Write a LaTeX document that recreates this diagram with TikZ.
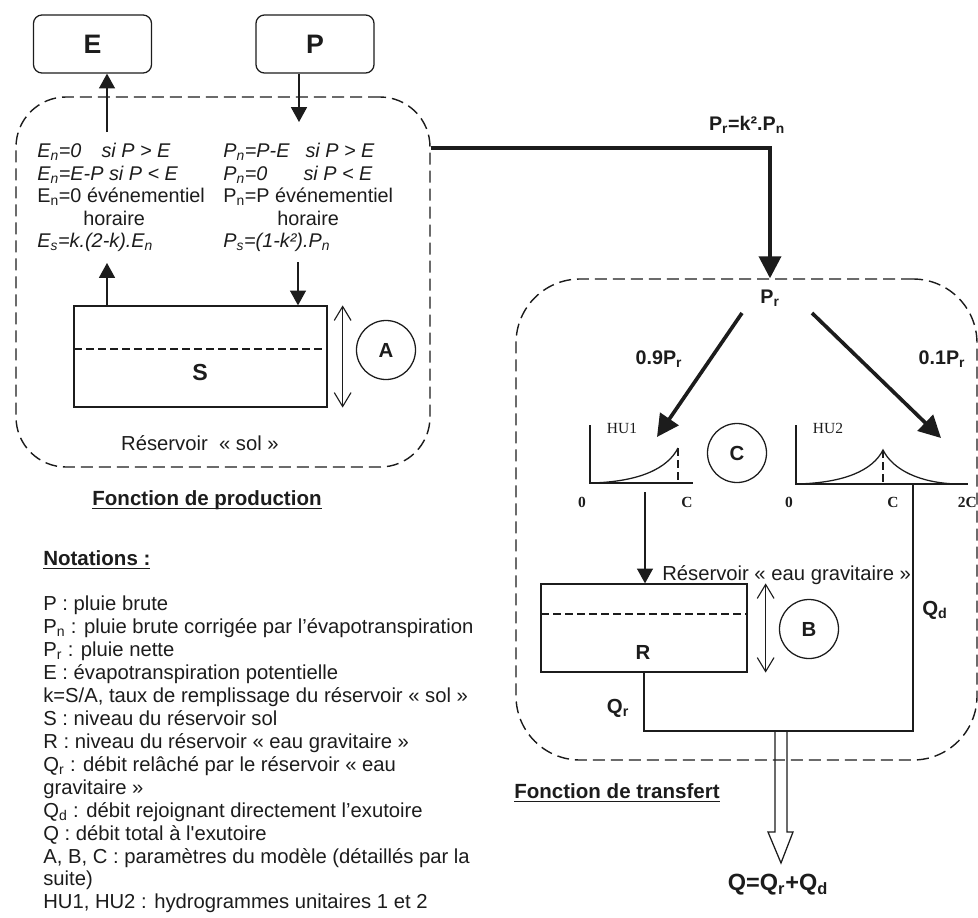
\documentclass[tikz,border=0pt]{standalone}
\usepackage{fontspec}
\setmainfont{Liberation Sans}
\newfontfamily\hufont{Liberation Serif}
\usetikzlibrary{arrows.meta,positioning,fit,calc}
\definecolor{ink}{HTML}{1C1C1C}
\tikzset{
  inbox/.style={draw=ink, line width=0.9pt, rounded corners=6pt, minimum width=29.5mm,
                minimum height=14.5mm, font=\fontsize{19}{22}\selectfont\bfseries, text=ink},
  tank/.style={draw=ink, line width=0.9pt, inner sep=0pt},
  param/.style={circle, draw=ink, line width=0.9pt, minimum size=14.75mm, inner sep=0pt,
                font=\fontsize{14.5}{16}\selectfont\bfseries, text=ink},
  zone/.style={draw=ink, line width=1pt, dash pattern=on 3mm off 1.5mm, inner sep=0pt},
  level/.style={draw=ink, line width=0.8pt, dash pattern=on 2mm off 1mm},
  wire/.style={draw=ink, line width=0.9pt},
  flow/.style={-{Triangle[length=3.7mm,width=4mm]}, line width=0.9pt, draw=ink},
  bigflow/.style={-{Triangle[length=5.5mm,width=5.5mm]}, line width=2.6pt, draw=ink},
  span/.style={{Straight Barb[length=3.5mm,width=4.2mm]}-{Straight Barb[length=3.5mm,width=4.2mm]},
               line width=0.8pt, draw=ink},
  hollow/.style={draw=ink, line width=0.9pt},
  txt/.style={font=\fontsize{14.4}{16.3}\selectfont, text=ink, inner sep=0pt},
  formula/.style={font=\fontsize{14.1}{16}\selectfont, text=ink, inner sep=0pt, align=left},
  lbl/.style={font=\fontsize{14.5}{17}\selectfont\bfseries, text=ink, inner sep=0pt},
  bold/.style={font=\fontsize{14}{16}\selectfont\bfseries, text=ink, inner sep=0pt},
  title/.style={font=\fontsize{14.6}{17}\selectfont\bfseries, text=ink, inner sep=0pt},
  hulbl/.style={font=\hufont\fontsize{11}{13}\selectfont, text=ink, inner sep=0pt},
  hutick/.style={font=\hufont\fontsize{11}{13}\selectfont\bfseries, text=ink, inner sep=0pt}
}
\newcommand{\sbs}[1]{\textsubscript{#1}}
\newcommand{\titleul}[1]{\setbox0\hbox{#1}\rlap{\rule[-2.6pt]{\wd0}{1pt}}\box0}

\begin{document}
\begin{tikzpicture}[x=0.25mm,y=-0.25mm]
  \useasboundingbox (0,0) rectangle (978,918);

  % fonction de production
  \node[inbox] (E) at (92.5,44) {E};
  \node[inbox] (P) at (315,44) {P};
  \node[zone, rounded corners=12.5mm, fit={(16,97) (430,467)}] (prod) {};
  \node[formula, anchor=north west] (enlaw) at (37,143) {%
    \textit{E\sbs{n}=0\hspace{5mm}si P > E}\\
    \textit{E\sbs{n}=E-P si P < E}\\
    E\sbs{n}=0 événementiel\\
    \hspace*{11.5mm}horaire\\
    \textit{E\sbs{s}=k.(2-k).E\sbs{n}}};
  \node[formula, anchor=north west] (pnlaw) at (223,143) {%
    \textit{P\sbs{n}=P-E\hspace{4mm}si P > E}\\
    \textit{P\sbs{n}=0\hspace{9mm}si P < E}\\
    P\sbs{n}=P événementiel\\
    \hspace*{13.5mm}horaire\\
    \textit{P\sbs{s}=(1-k²).P\sbs{n}}};
  \node[tank, fit={(74,306) (327,407)}] (S) {};
  \draw[level] (74,349) -- (327,349);
  \node[lbl, font=\fontsize{16.5}{18}\selectfont\bfseries] (Slbl) at (200,373) {S};
  \node[param] (A) at (386,350) {A};
  \node[txt] (solname) at (200,443) {Réservoir\ \ « sol »};

  \coordinate (eOut) at (107,132);
  \coordinate (pIn) at (299,122);
  \coordinate (esOut) at (107,263);
  \coordinate (psIn) at (298,262);
  \draw[flow] (eOut) -- (E.south -| eOut);
  \draw[flow] (P.south -| pIn) -- (pIn);
  \draw[flow] (S.north -| esOut) -- (esOut);
  \draw[flow] (psIn) -- (S.north -| psIn);
  \draw[span] ([xshift=3.75mm]S.north east) -- ([xshift=3.75mm]S.south east);

  \node[title] (fprod) at (207,500) {\titleul{Fonction de production}};
  \node[title, anchor=west] (notat) at (43,560) {\titleul{Notations :}};
  \node[txt, anchor=north west, align=left] (notes) at (43,596) {%
    P : pluie brute\\
    P\sbs{n} : pluie brute corrigée par l’évapotranspiration\\
    P\sbs{r} : pluie nette\\
    E : évapotranspiration potentielle\\
    k=S/A, taux de remplissage du réservoir « sol »\\
    S : niveau du réservoir sol\\
    R : niveau du réservoir « eau gravitaire »\\
    Q\sbs{r} : débit relâché par le réservoir « eau\\
    gravitaire »\\
    Q\sbs{d} : débit rejoignant directement l’exutoire\\
    Q : débit total à l\textquotesingle exutoire\\
    A, B, C : paramètres du modèle (détaillés par la\\
    suite)\\
    HU1, HU2 : hydrogrammes unitaires 1 et 2};

  % fonction de transfert
  \node[zone, rounded corners=16mm, fit={(516,279) (977,760)}] (trans) {};
  \node[bold] (Pr) at (770,298) {P\sbs{r}};
  \coordinate (prOut) at (431,148);
  \draw[bigflow] (prOut) -| (Pr |- trans.north);
  \node[bold] (prlaw) at (747,125) {P\sbs{r}=k².P\sbs{n}};
  \coordinate (hu1In) at (657,437);
  \coordinate (hu2In) at (941,438);
  \draw[bigflow] ([shift={(-28,15)}]Pr.center) -- (hu1In);
  \draw[bigflow] ([shift={(42,15)}]Pr.center) -- (hu2In);
  \node[bold] (split1) at (659,359) {0.9P\sbs{r}};
  \node[bold] (split2) at (942,359) {0.1P\sbs{r}};

  % HU1
  \draw[wire] (590,425) -- (590,483) -- (693,483);
  \draw[wire] (590,483) .. controls (640,482) and (668,468) .. (678,448);
  \draw[level] (678,448) -- (678,483);
  \node[hulbl] (hu1) at (622,428) {HU1};
  \node[hutick] (hu1zero) at (582,502) {0};
  \node[hutick] (hu1c) at (687,502) {C};
  \node[param] (C) at (737,453) {C};

  % HU2
  \draw[wire] (796,425) -- (796,484) -- (968,484);
  \draw[wire] (796,484) .. controls (845,483) and (873,470) .. (883,450)
                        .. controls (893,470) and (920,483) .. (957,484);
  \draw[level] (883,450) -- (883,484);
  \node[hulbl] (hu2) at (828,428) {HU2};
  \node[hutick] (hu2zero) at (789,502) {0};
  \node[hutick] (hu2c) at (893,502) {C};
  \node[hutick, anchor=east] (hu2cc) at (977,502) {2C};

  % reservoir eau gravitaire
  \node[tank, fit={(541,584) (747,672)}] (R) {};
  \draw[level] (541,614) -- (747,614);
  \node[lbl] (Rlbl) at (643,652) {R};
  \node[txt, anchor=west] (gravname) at (662,575) {Réservoir « eau gravitaire »};
  \node[param] (B) at (809,629) {B};
  \draw[span] ([xshift=4.5mm]R.north east) -- ([xshift=4.5mm]R.south east);

  \coordinate (hu1Out) at (645,492);
  \coordinate (hu2Out) at (913,484);
  \coordinate (qOut) at (781,731);
  \draw[flow] (hu1Out) -- (R.north -| hu1Out);
  \draw[wire] (R.south) |- (qOut);
  \draw[wire] (hu2Out) |- (qOut);
  \node[lbl] (qr) at (618,708) {Q\sbs{r}};
  \node[lbl] (qd) at (935,610) {Q\sbs{d}};

  \node[title] (ftrans) at (617,793) {\titleul{Fonction de transfert}};
  \node[lbl, font=\fontsize{16.7}{19}\selectfont\bfseries] (Qtot) at (778,885) {Q=Q\sbs{r}+Q\sbs{d}};
  \coordinate (qTip) at (781,863);
  \draw[hollow] ([xshift=-1.5mm]qOut) -- ++(0,101) -- ++(-7,0) -- (qTip)
                -- ++(12,-31) -- ++(-6,0) -- ++(0,-101);
\end{tikzpicture}
\end{document}
